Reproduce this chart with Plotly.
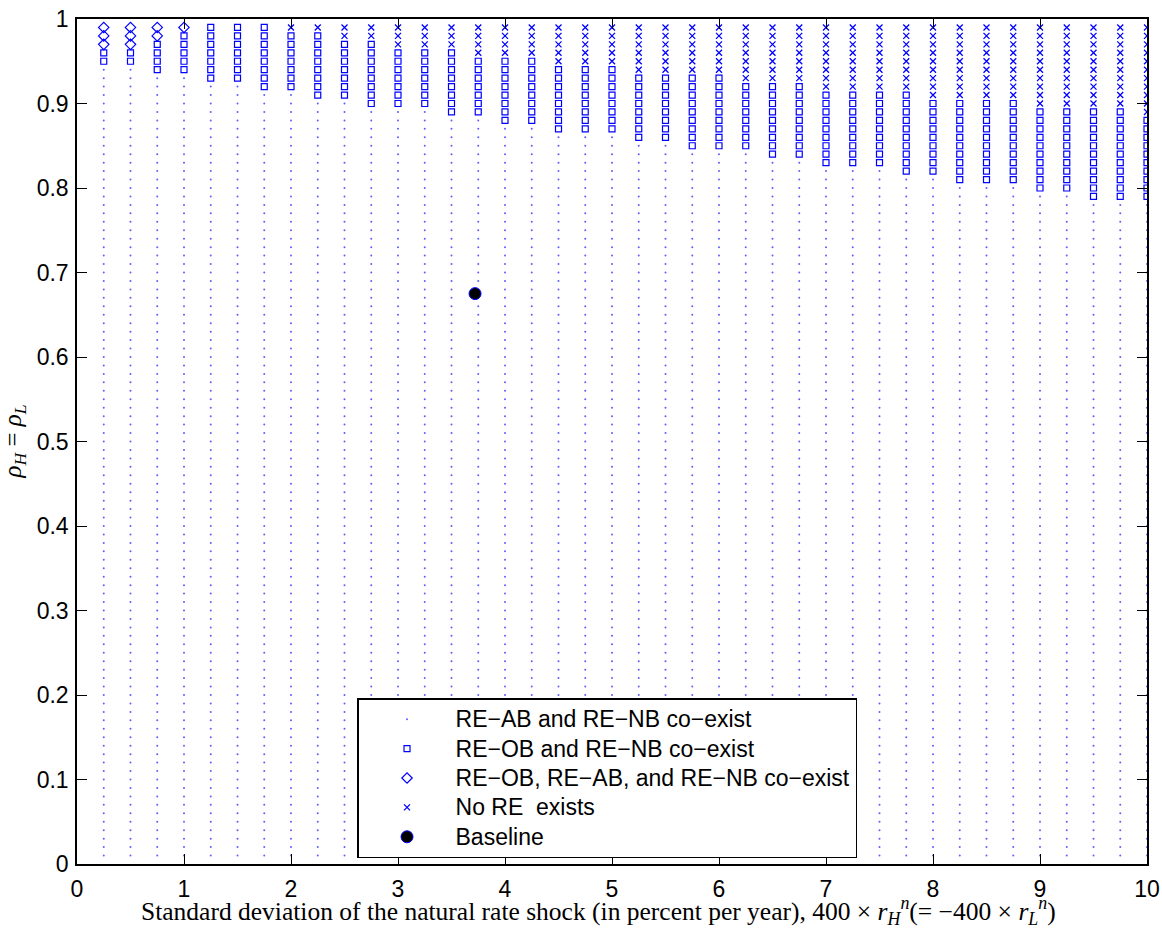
import plotly.graph_objects as go

# Columns: standard deviation of natural rate shock (percent per year)
sigma = [0.25, 0.5, 0.75, 1.0, 1.25, 1.5, 1.75, 2.0, 2.25, 2.5,
         2.75, 3.0, 3.25, 3.5, 3.75, 4.0, 4.25, 4.5, 4.75, 5.0,
         5.25, 5.5, 5.75, 6.0, 6.25, 6.5, 6.75, 7.0, 7.25, 7.5,
         7.75, 8.0, 8.25, 8.5, 8.75, 9.0, 9.25, 9.5, 9.75, 10.0]

# Grid of persistence values evaluated (in percent): 1..99
rho_grid_pct = list(range(1, 100))

# Per column: number of top grid rows where no RE exists
n_no_re = [0, 0, 0, 0, 0, 0, 0, 1, 1, 2,
           2, 3, 3, 3, 4, 4, 4, 5, 5, 5,
           6, 6, 6, 6, 7, 7, 7, 8, 8, 8,
           8, 9, 9, 9, 9, 10, 10, 10, 10, 11]
# Per column: number of following rows where RE-OB, RE-AB and RE-NB co-exist
n_diamond = [3, 3, 2, 1, 0, 0, 0, 0, 0, 0,
             0, 0, 0, 0, 0, 0, 0, 0, 0, 0,
             0, 0, 0, 0, 0, 0, 0, 0, 0, 0,
             0, 0, 0, 0, 0, 0, 0, 0, 0, 0]
# Per column: lowest rho (percent) where RE-OB and RE-NB co-exist
rho_square_min_pct = [95, 95, 94, 94, 93, 93, 92, 92, 91, 91,
                      90, 90, 90, 89, 89, 88, 88, 87, 87, 87,
                      86, 86, 85, 85, 85, 84, 84, 83, 83, 83,
                      82, 82, 81, 81, 81, 80, 80, 79, 79, 79]

baseline_sigma = [3.72]
baseline_rho = [0.675]

x_tick_vals = [0, 1, 2, 3, 4, 5, 6, 7, 8, 9, 10]
y_tick_vals = [0, 0.1, 0.2, 0.3, 0.4, 0.5, 0.6, 0.7, 0.8, 0.9, 1]
y_tick_text = ["0", "0.1", "0.2", "0.3", "0.4", "0.5", "0.6", "0.7", "0.8", "0.9", "1"]

legend_names = ["RE\u2212AB and RE\u2212NB co\u2212exist",
                "RE\u2212OB and RE\u2212NB co\u2212exist",
                "RE\u2212OB, RE\u2212AB, and RE\u2212NB co\u2212exist",
                "No RE\u00a0 exists",
                "Baseline"]

dots_x, dots_y = [], []
sq_x, sq_y = [], []
dm_x, dm_y = [], []
xx_x, xx_y = [], []
top = max(rho_grid_pct)
for s, nx, nd, smin in zip(sigma, n_no_re, n_diamond, rho_square_min_pct):
    for r in rho_grid_pct:
        k = top - r  # rows from the top
        if k < nx:
            xx_x.append(s); xx_y.append(r / 100)
        elif k < nx + nd:
            dm_x.append(s); dm_y.append(r / 100)
        elif r >= smin:
            sq_x.append(s); sq_y.append(r / 100)
        else:
            dots_x.append(s); dots_y.append(r / 100)


def lname(t):
    return '<span style="font-size:23px">' + t + '</span>'


blue = "#0000ff"
fig = go.Figure()
fig.add_trace(go.Scatter(x=dots_x, y=dots_y, mode="markers", name=lname(legend_names[0]),
                         marker=dict(symbol="circle", size=2, color="rgba(40,40,255,0.75)",
                                     line=dict(width=0))))
fig.add_trace(go.Scatter(x=sq_x, y=sq_y, mode="markers", name=lname(legend_names[1]),
                         marker=dict(symbol="square-open", size=6, color=blue,
                                     line=dict(width=1.2, color=blue))))
fig.add_trace(go.Scatter(x=dm_x, y=dm_y, mode="markers", name=lname(legend_names[2]),
                         marker=dict(symbol="diamond-open", size=8, color=blue,
                                     line=dict(width=1.2, color=blue))))
fig.add_trace(go.Scatter(x=xx_x, y=xx_y, mode="markers", name=lname(legend_names[3]),
                         marker=dict(symbol="x-thin-open", size=6, color=blue,
                                     line=dict(width=1.3, color=blue))))
fig.add_trace(go.Scatter(x=baseline_sigma, y=baseline_rho, mode="markers",
                         name=lname(legend_names[4]),
                         marker=dict(symbol="circle", size=12, color="black",
                                     line=dict(width=1, color=blue))))

axis_common = dict(showline=True, linecolor="black", linewidth=1.5, mirror="ticks",
                   ticks="inside", ticklen=10, tickcolor="black", tickwidth=1.2,
                   showgrid=False, zeroline=False, automargin=False,
                   tickfont=dict(family="Liberation Sans", size=23, color="black"))

fig.update_layout(
    width=1162, height=930,
    margin=dict(l=77, r=15, t=19, b=66),
    paper_bgcolor="white", plot_bgcolor="white",
    xaxis=dict(range=[0, 10], tickvals=x_tick_vals, ticklabelstandoff=4, **axis_common),
    yaxis=dict(range=[0, 1], tickvals=y_tick_vals, ticktext=y_tick_text,
               ticklabelstandoff=2, **axis_common),
    legend=dict(x=0.2617, y=0.1964, xanchor="left", yanchor="top",
                bgcolor="white", bordercolor="black", borderwidth=1.5,
                font=dict(family="Liberation Sans", size=20.3, color="black"),
                itemwidth=87, tracegroupgap=0),
    showlegend=True,
    annotations=[
        dict(text="Standard deviation of the natural rate shock (in percent per year), "
                  "400 \u00d7 <i>r</i><sub><i>H</i></sub><sup><i>n</i></sup>"
                  "(= \u2212400 \u00d7 <i>r</i><sub><i>L</i></sub><sup><i>n</i></sup>)",
             xref="paper", yref="paper", x=0.487, y=0, xanchor="center", yanchor="middle",
             yshift=-47, showarrow=False,
             font=dict(family="Liberation Serif", size=25.5, color="black")),
        dict(text="<i>\u03c1</i><sub><i>H</i></sub> = <i>\u03c1</i><sub><i>L</i></sub>",
             xref="paper", yref="paper", x=0, y=0.5, xanchor="center", yanchor="middle",
             xshift=-63, textangle=-90, showarrow=False,
             font=dict(family="Liberation Serif", size=25, color="black")),
    ],
)

fig.write_html("out.html",
               config={"displayModeBar": False},
               post_script="document.body.style.margin='0px';"
                           "document.body.style.overflow='hidden';")
